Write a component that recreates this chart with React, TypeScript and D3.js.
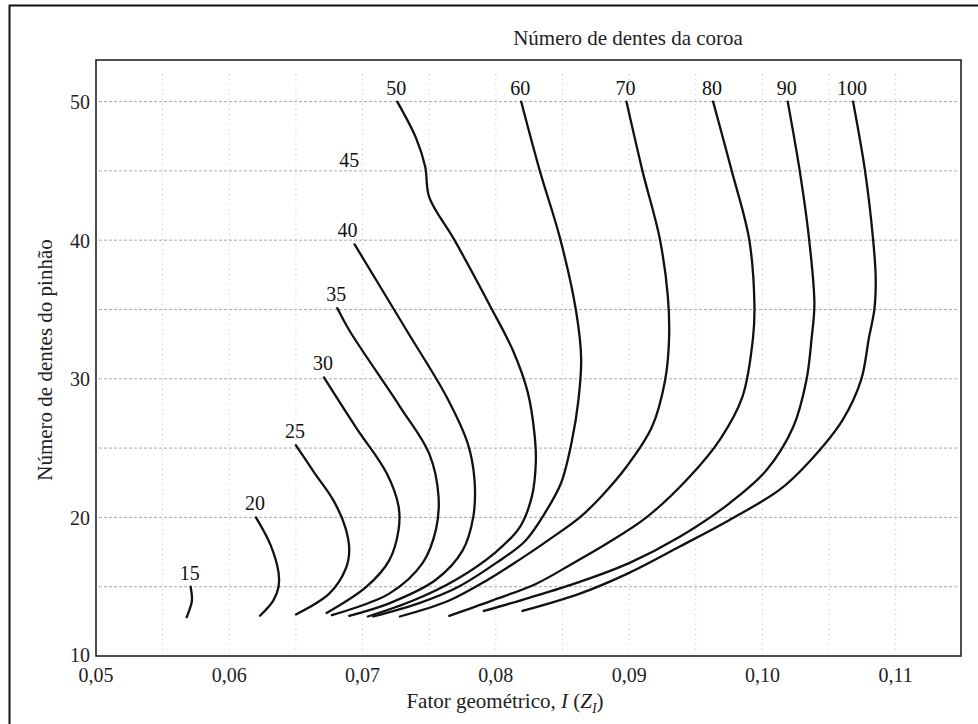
import React, { useEffect, useRef } from 'react';
import * as d3 from 'd3';

// Número de dentes da coroa (one curve each)
const gearTeeth = [15, 20, 25, 30, 35, 40, 50, 60, 70, 80, 90, 100];

// [fator geométrico I, dentes do pinhão], read from the top end downwards
const curve15 = [[0.0571, 15.0], [0.0572, 14.0], [0.0570, 13.3], [0.0568, 12.8]];
const curve20 = [[0.0620, 20.0], [0.0631, 18.0], [0.0637, 16.0], [0.0637, 15.0], [0.0633, 14.0], [0.0623, 12.9]];
const curve25 = [[0.0650, 25.2], [0.0664, 23.2], [0.0678, 21.25], [0.0687, 19.3], [0.0690, 17.6], [0.0687, 16.2], [0.0675, 14.5], [0.0650, 13.0]];
const curve30 = [[0.0671, 30.1], [0.0695, 26.5], [0.0718, 23.2], [0.0727, 20.8], [0.0727, 19.1], [0.0720, 16.9], [0.0703, 15.0], [0.0673, 13.1]];
const curve35 = [[0.0681, 35.1], [0.0690, 33.5], [0.0728, 28.0], [0.0750, 24.6], [0.0757, 21.5], [0.0755, 19.1], [0.0745, 16.7], [0.0720, 14.5], [0.0677, 12.95]];
const curve40 = [[0.0694, 39.7], [0.0733, 33.5], [0.0763, 28.7], [0.0779, 25.3], [0.0784, 22.7], [0.0783, 20.0], [0.0775, 17.6], [0.0755, 15.5], [0.0720, 13.8], [0.0690, 12.9]];
const curve50 = [[0.0726, 50.0], [0.0740, 47.4], [0.0747, 45.3], [0.0750, 43.1], [0.0769, 40.0], [0.0796, 35.2], [0.0813, 32.0], [0.0824, 29.0], [0.0829, 26.0], [0.0830, 24.0], [0.0827, 21.5], [0.0818, 19.3], [0.0800, 17.5], [0.0770, 15.5], [0.0738, 14.0], [0.0704, 12.85]];
const curve60 = [[0.0819, 50.0], [0.0833, 45.0], [0.0848, 40.2], [0.0860, 35.0], [0.0864, 31.5], [0.0862, 28.5], [0.0857, 25.5], [0.0849, 22.5], [0.0838, 20.5], [0.0822, 18.3], [0.0800, 16.7], [0.0772, 15.0], [0.0742, 13.8], [0.0708, 12.85]];
const curve70 = [[0.0898, 50.0], [0.0910, 45.0], [0.0923, 40.1], [0.0929, 36.0], [0.0930, 33.0], [0.0927, 29.9], [0.0917, 26.5], [0.0898, 23.65], [0.0880, 21.6], [0.0863, 20.0], [0.0840, 18.4], [0.0817, 16.9], [0.0794, 15.5], [0.0765, 14.0], [0.0728, 12.85]];
const curve80 = [[0.0963, 50.0], [0.0977, 45.0], [0.0990, 40.1], [0.0994, 35.4], [0.0993, 33.0], [0.0985, 28.7], [0.0968, 25.6], [0.0945, 22.9], [0.0913, 20.0], [0.0883, 18.1], [0.0858, 16.7], [0.0830, 15.2], [0.0797, 14.0], [0.0765, 12.9]];
const curve90 = [[0.1019, 50.0], [0.1028, 45.0], [0.1035, 40.1], [0.1039, 35.4], [0.1037, 33.0], [0.1033, 29.9], [0.1023, 26.5], [0.1003, 23.4], [0.0975, 21.0], [0.0938, 18.6], [0.0900, 16.7], [0.0863, 15.35], [0.0825, 14.2], [0.0791, 13.25]];
const curve100 = [[0.1068, 50.0], [0.1077, 45.0], [0.1083, 40.1], [0.1085, 37.3], [0.1084, 35.0], [0.1080, 33.0], [0.1074, 29.9], [0.1060, 27.0], [0.1035, 24.0], [0.1013, 22.0], [0.0975, 19.8], [0.0938, 17.9], [0.0900, 16.0], [0.0863, 14.5], [0.0820, 13.25]];

const curves = [curve15, curve20, curve25, curve30, curve35, curve40, curve50, curve60, curve70, curve80, curve90, curve100];

// the "45" label sits by the kink of the 50 curve, with no curve of its own
const extraLabels = [{ text: '45', x: 0.0690, y: 45.8 }];

const xTicks = [0.05, 0.06, 0.07, 0.08, 0.09, 0.10, 0.11];
const yTicks = [10, 20, 30, 40, 50];
const xGrid = [0.055, 0.06, 0.065, 0.07, 0.075, 0.08, 0.085, 0.09, 0.095, 0.10, 0.105, 0.11];
const yGrid = [15, 20, 25, 30, 35, 40, 45, 50];

const WIDTH = 978;
const HEIGHT = 724;
const FONT = '"Liberation Serif", "Times New Roman", serif';

const App = () => {
  const svgRef = useRef<SVGSVGElement>(null);

  useEffect(() => {
    const svg = d3.select(svgRef.current);
    svg.selectAll('*').remove();

    const left = 96, right = 961, top = 60, bottom = 656;

    const x = d3.scaleLinear().domain([0.05, 0.1149]).range([left, right]);
    const y = d3.scaleLinear().domain([10, 53]).range([bottom, top]);

    const fmt = d3.formatLocale({ decimal: ',', thousands: '.', grouping: [3], currency: ['', ''] });
    const fmtX = (v: number) => fmt.format('.2f')(v);

    // outer figure border (only left and top edges fall inside the page)
    svg.append('path')
      .attr('d', `M9.5,${HEIGHT} V5.5 H${WIDTH}`)
      .attr('fill', 'none')
      .attr('stroke', '#111')
      .attr('stroke-width', 2);

    // grid
    const grid = svg.append('g');
    grid.selectAll('.gy')
      .data(yGrid)
      .enter()
      .append('line')
      .attr('x1', left + 3)
      .attr('x2', right - 3)
      .attr('y1', d => y(d))
      .attr('y2', d => y(d))
      .attr('stroke', '#aaa')
      .attr('stroke-width', 1)
      .attr('stroke-dasharray', '3,2');

    grid.selectAll('.gx')
      .data(xGrid)
      .enter()
      .append('line')
      .attr('x1', d => x(d))
      .attr('x2', d => x(d))
      .attr('y1', y(52))
      .attr('y2', bottom - 3)
      .attr('stroke', '#bbb')
      .attr('stroke-width', 1)
      .attr('stroke-dasharray', '1,4');

    // plot frame
    svg.append('rect')
      .attr('x', left)
      .attr('y', top)
      .attr('width', right - left)
      .attr('height', bottom - top)
      .attr('fill', 'none')
      .attr('stroke', '#222')
      .attr('stroke-width', 1.6);

    // tick labels
    svg.append('g')
      .selectAll('text')
      .data(xTicks)
      .enter()
      .append('text')
      .attr('x', d => x(d))
      .attr('y', 682)
      .attr('text-anchor', 'middle')
      .attr('font-family', FONT)
      .attr('font-size', 20)
      .attr('fill', '#222')
      .text(d => fmtX(d));

    svg.append('g')
      .selectAll('text')
      .data(yTicks)
      .enter()
      .append('text')
      .attr('x', 90)
      .attr('y', d => y(d))
      .attr('dy', d => (d === 10 ? '0.3em' : '0.38em'))
      .attr('text-anchor', 'end')
      .attr('font-family', FONT)
      .attr('font-size', 20)
      .attr('fill', '#222')
      .text(d => d);

    // curves
    const line = d3.line<number[]>()
      .x(d => x(d[0]))
      .y(d => y(d[1]))
      .curve(d3.curveCatmullRom.alpha(0.5));

    svg.append('g')
      .selectAll('path')
      .data(curves)
      .enter()
      .append('path')
      .attr('d', d => line(d))
      .attr('fill', 'none')
      .attr('stroke', '#111')
      .attr('stroke-width', 2.3)
      .attr('stroke-linecap', 'round');

    // curve labels at the top end of each curve
    svg.append('g')
      .selectAll('text')
      .data(curves)
      .enter()
      .append('text')
      .attr('x', (d, i) => x(d[0][0]) - (gearTeeth[i] === 40 ? 7 : 1))
      .attr('y', d => y(d[0][1]) - 7)
      .attr('text-anchor', 'middle')
      .attr('font-family', FONT)
      .attr('font-size', 20)
      .attr('fill', '#111')
      .text((d, i) => gearTeeth[i]);

    svg.append('g')
      .selectAll('text')
      .data(extraLabels)
      .enter()
      .append('text')
      .attr('x', d => x(d.x))
      .attr('y', d => y(d.y))
      .attr('dy', '0.35em')
      .attr('text-anchor', 'middle')
      .attr('font-family', FONT)
      .attr('font-size', 20)
      .attr('fill', '#111')
      .text(d => d.text);

    // titles
    svg.append('text')
      .attr('x', 628)
      .attr('y', 45)
      .attr('text-anchor', 'middle')
      .attr('font-family', FONT)
      .attr('font-size', 21)
      .attr('fill', '#222')
      .text('Número de dentes da coroa');

    svg.append('text')
      .attr('transform', 'translate(52, 360) rotate(-90)')
      .attr('text-anchor', 'middle')
      .attr('font-family', FONT)
      .attr('font-size', 21)
      .attr('fill', '#222')
      .text('Número de dentes do pinhão');

    const xl = svg.append('text')
      .attr('x', 505)
      .attr('y', 708)
      .attr('text-anchor', 'middle')
      .attr('font-family', FONT)
      .attr('font-size', 21)
      .attr('fill', '#222');
    xl.append('tspan').text('Fator geométrico, ');
    xl.append('tspan').attr('font-style', 'italic').text('I');
    xl.append('tspan').text(' (');
    xl.append('tspan').attr('font-style', 'italic').text('Z');
    xl.append('tspan').attr('font-style', 'italic').attr('font-size', 14).attr('dy', 5).text('I');
    xl.append('tspan').attr('dy', -5).text(')');
  }, []);

  return (
    <div>
      <style>{'body { margin: 0; }'}</style>
      <svg ref={svgRef} width={WIDTH} height={HEIGHT} style={{ display: 'block', background: '#fff' }} />
    </div>
  );
};

export default App;
